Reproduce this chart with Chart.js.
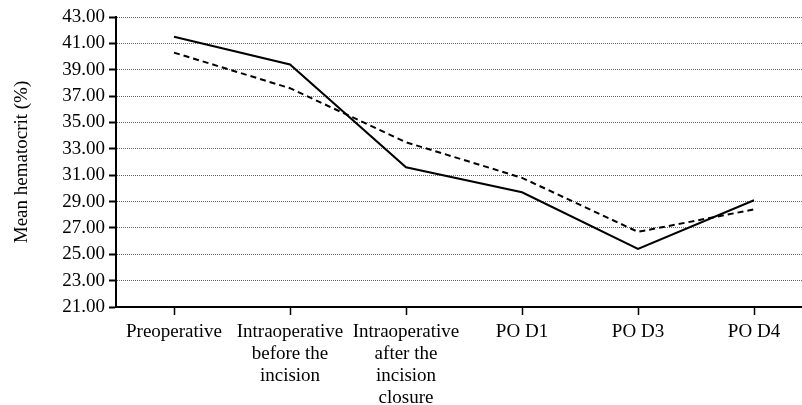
<!DOCTYPE html>
<html>
<head>
<meta charset="utf-8">
<script src="https://cdn.jsdelivr.net/npm/chart.js@4"></script>
<style>
html,body{margin:0;padding:0;background:#fff;overflow:hidden;width:802px;height:405px;}
#wrap{position:absolute;left:0;top:0;width:814px;height:405px;}
</style>
</head>
<body>
<div id="wrap"><canvas id="c" width="814" height="405"></canvas></div>
<script>
const categories = [
  "Preoperative",
  ["Intraoperative", "before the", "incision"],
  ["Intraoperative", "after the", "incision", "closure"],
  "PO D1",
  "PO D3",
  "PO D4"
];
const solidSeries = [41.5, 39.4, 31.6, 29.7, 25.4, 29.1];
const dashedSeries = [40.3, 37.6, 33.5, 30.8, 26.7, 28.4];
const yTicks = [21, 23, 25, 27, 29, 31, 33, 35, 37, 39, 41, 43];
const yTitle = "Mean hematocrit (%)";

const FONT = "'Liberation Serif', 'Times New Roman', serif";

new Chart(document.getElementById('c'), {
  type: 'line',
  data: {
    labels: categories,
    datasets: [
      {data: solidSeries, borderColor: '#000', borderWidth: 2, pointRadius: 0, tension: 0, fill: false},
      {data: dashedSeries, borderColor: '#000', borderWidth: 2, borderDash: [6, 4], pointRadius: 0, tension: 0, fill: false}
    ]
  },
  options: {
    responsive: false,
    animation: false,
    devicePixelRatio: 1,
    layout: {padding: {top: 17, right: 2, left: 0, bottom: 0}},
    plugins: {legend: {display: false}, tooltip: {enabled: false}},
    scales: {
      x: {
        type: 'category',
        offset: true,
        grid: {display: true, drawOnChartArea: false, drawTicks: true, tickLength: 8, offset: false, color: '#000', tickColor: '#000', tickWidth: 1.5},
        border: {display: true, color: '#000', width: 2},
        ticks: {color: '#000', font: {family: FONT, size: 19, lineHeight: 1.16}, maxRotation: 0, autoSkip: false, padding: 6},
        afterFit: (s) => { s.height = 98; }
      },
      y: {
        min: 21, max: 43,
        afterBuildTicks: (s) => { s.ticks = yTicks.map(v => ({value: v})); },
        grid: {color: '#666', lineWidth: 1, drawTicks: true, tickLength: 7, tickColor: '#000', tickWidth: 2, tickBorderDash: []},
        border: {display: true, color: '#000', width: 2, dash: [1, 1]},
        ticks: {color: '#000', font: {family: FONT, size: 19}, padding: 4, callback: (v) => Number(v).toFixed(2)},
        title: {display: true, text: yTitle, color: '#000', font: {family: FONT, size: 19}, padding: {top: 11, bottom: 0}},
        afterFit: (s) => { s.width = 116; }
      }
    }
  }
});
</script>
</body>
</html>
